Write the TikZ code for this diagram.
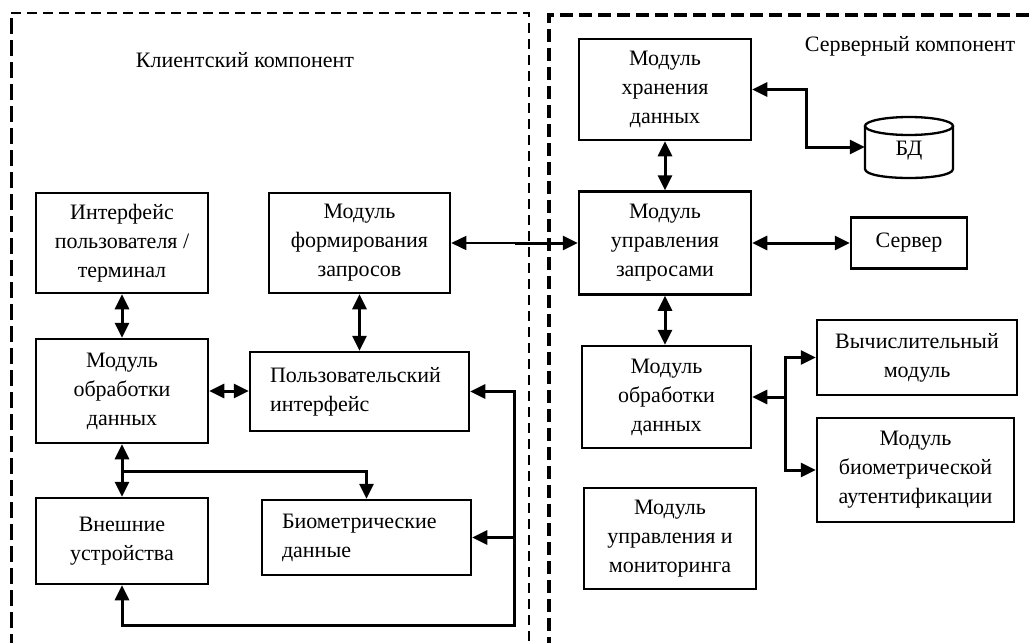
\documentclass[tikz,border=0pt]{standalone}
\usepackage{fontspec}
\setmainfont{Liberation Serif}
\usetikzlibrary{arrows.meta}
\begin{document}
\begin{tikzpicture}[x=1pt,y=-1pt,
  txt/.style={font=\fontsize{22}{29}\selectfont},
  box/.style={txt, draw, line width=2.5pt, align=center, inner sep=0pt},
  lbox/.style={txt, draw, line width=2.5pt, align=left, inner ysep=0pt, inner xsep=20pt},
  conn/.style={line width=3pt, -{Triangle[length=15pt,width=14pt]}},
  dconn/.style={line width=3pt, {Triangle[length=15pt,width=14pt]}-{Triangle[length=15pt,width=14pt]}},
  thinconn/.style={line width=1.5pt, -{Triangle[length=15pt,width=14pt]}},
  thickframe/.style={line width=3pt, dash pattern=on 16pt off 6pt},
  thinframe/.style={line width=1.2pt, dash pattern=on 10pt off 6pt},
  srvframe/.style={line width=3.5pt, dash pattern=on 13pt off 6pt}]
\useasboundingbox (0,0) rectangle (1035,642);
\clip (0,0) rectangle (1035,642);
\fill[white] (0,0) rectangle (1035,642);

% frames
\draw[thickframe] (11,650) -- (11,13);
\draw[thinframe] (11,13) -- (529,13) -- (529,650);
\draw[srvframe] (549,650) -- (549,15) -- (1045,15);

% titles
\node[txt] (tc) at (245,60) {Клиентский компонент};
\node[txt] (ts) at (910,46) {Серверный компонент};

% client nodes
\node[box, minimum width=172, minimum height=100] (ui) at (122,243) {Интерфейс\\пользователя /\\терминал};
\node[box, minimum width=181, minimum height=100] (form) at (359.5,243) {Модуль\\формирования\\запросов};
\node[box, minimum width=172, minimum height=104] (cproc) at (122,391) {Модуль\\обработки\\данных};
\node[lbox, text width=179, minimum height=79] (pui) at (359.5,391.5) {Пользовательский\\интерфейс};
\node[box, minimum width=172, minimum height=86] (ext) at (122,541) {Внешние\\устройства};
\node[lbox, text width=169, minimum height=75] (bio) at (366.5,537.5) {Биометрические\\данные};

% server nodes
\node[box, minimum width=172, minimum height=101] (store) at (665,89.5) {Модуль\\хранения\\данных};
\node[box, minimum width=172, minimum height=103] (mgr) at (665,243) {Модуль\\управления\\запросами};
\node[box, minimum width=116, minimum height=51] (srv) at (909,243) {Сервер};
\node[box, minimum width=169, minimum height=102] (sproc) at (666.5,397) {Модуль\\обработки\\данных};
\node[box, minimum width=200, minimum height=75] (calc) at (917,357.5) {Вычислительный\\модуль};
\node[box, minimum width=197, minimum height=104] (auth) at (915.5,470) {Модуль\\биометрической\\аутентификации};
\node[box, minimum width=172, minimum height=101] (mon) at (670,538.5) {Модуль\\управления и\\мониторинга};

% database cylinder
\node[txt, minimum width=88, minimum height=50, inner sep=0pt] (bd) at (909,151) {БД};
\draw[line width=2.3pt] (909,126) ellipse [x radius=44, y radius=9];
\draw[line width=2.3pt] (865,126) -- (865,169) .. controls (865,181) and (953,181) .. (953,169) -- (953,126);

% client connectors
\draw[dconn] (ui.south) -- (cproc.north);
\draw[dconn] (form.south -| pui.north) -- (pui.north);
\draw[dconn] (cproc.east) -- (pui.west |- cproc.east);
\draw[dconn] (cproc.south) -- (ext.north);
\coordinate (br) at (122,471);
\draw[conn] (br) -| (bio.north);
\coordinate (lb) at (514,625);
\draw[dconn] (pui.east) -| (lb) -| (ext.south);
\draw[conn] (bio.east -| lb) -- (bio.east);

% client-server link
\coordinate (mid) at (515,243);
\draw[thinconn] (mid) -- (form.east);
\draw[conn] (mid) -- (mgr.west);

% server connectors
\draw[dconn] (store.south) -- (mgr.north);
\coordinate (sb) at (806,147);
\draw[dconn] (store.east) -| (sb) -- (bd.west |- sb);
\draw[dconn] (mgr.east) -- (srv.west);
\draw[dconn] (mgr.south) -- (mgr.south |- sproc.north);
\coordinate (sj) at (785,397);
\draw[conn] (sj) -- (sproc.east);
\draw[conn] (sj) |- (calc.west);
\draw[conn] (sj) |- (auth.west);
\end{tikzpicture}
\end{document}
